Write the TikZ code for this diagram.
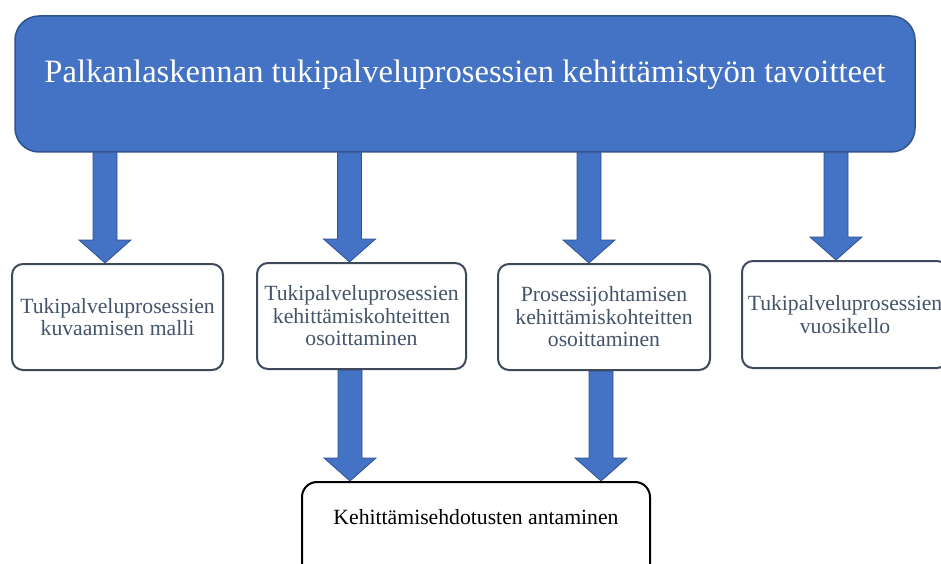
\documentclass[tikz,border=0pt]{standalone}
\usepackage{fontspec}
\setmainfont{Liberation Serif}
\usetikzlibrary{calc,backgrounds}
\definecolor{mainblue}{HTML}{4472C4}
\definecolor{darkblue}{HTML}{2F528F}
\definecolor{slate}{HTML}{44546A}
\definecolor{slateline}{HTML}{3E4A5A}
\tikzset{
 topbox/.style={draw=darkblue, line width=1.5pt, fill=mainblue, rounded corners=24pt, text=white,
   font=\rmfamily\fontsize{32.6}{38}\selectfont, minimum width=900pt, minimum height=136pt, inner sep=0pt,
   text height=23pt, text depth=25pt},
 midbox/.style={draw=slateline, line width=2pt, fill=white, rounded corners=11pt, text=slate,
   font=\rmfamily\fontsize{21.7}{22.5}\selectfont, align=center, inner sep=0pt},
 endbox/.style={draw=black, line width=2pt, fill=white, rounded corners=15pt,
   font=\rmfamily\fontsize{21.7}{24}\selectfont, inner sep=0pt, text height=15pt, text depth=51pt,
   minimum width=348pt, minimum height=120pt},
 blockarrow/.style={draw=darkblue, line width=0.8pt, fill=mainblue, line join=miter}
}
\newcommand\blockarr[2]{\path[blockarrow] let \p1=(#1), \p2=(#2) in
  (\x1-12pt,\y1) -- (\x1+12pt,\y1) -- (\x1+12pt,\y2+23pt) -- (\x1+26pt,\y2+23pt)
  -- (\x1,\y2) -- (\x1-26pt,\y2+23pt) -- (\x1-12pt,\y2+23pt) -- cycle;}
\begin{document}
\begin{tikzpicture}[x=1pt,y=-1pt]
\clip (0,0) rectangle (941,564);
\node[topbox] (top) at (465,84) {Palkanlaskennan tukipalveluprosessien kehittämistyön tavoitteet};
\node[midbox, minimum width=211pt, minimum height=106pt] (b1) at (117.5,317)
  {Tukipalveluprosessien\\kuvaamisen malli};
\node[midbox, minimum width=209pt, minimum height=106pt] (b2) at (361.5,316)
  {Tukipalveluprosessien\\kehittämiskohteitten\\osoittaminen};
\node[midbox, minimum width=212pt, minimum height=106pt] (b3) at (604,317)
  {Prosessijohtamisen\\kehittämiskohteitten\\osoittaminen};
\node[midbox, minimum width=206pt, minimum height=107pt] (b4) at (845,314.5)
  {Tukipalveluprosessien\\vuosikello};
\node[endbox] (bot) at (476,542) {Kehittämisehdotusten antaminen};
\coordinate (x1) at (105,0);
\coordinate (x2) at (349.5,0);
\coordinate (x3) at (589,0);
\coordinate (x4) at (836,0);
\coordinate (x5) at (350,0);
\coordinate (x6) at (601,0);
\begin{pgfonlayer}{background}
\blockarr{top.south -| x1}{b1.north -| x1}
\blockarr{top.south -| x2}{b2.north -| x2}
\blockarr{top.south -| x3}{b3.north -| x3}
\blockarr{top.south -| x4}{b4.north -| x4}
\blockarr{b2.south -| x5}{bot.north -| x5}
\blockarr{b3.south -| x6}{bot.north -| x6}
\end{pgfonlayer}
\end{tikzpicture}
\end{document}
